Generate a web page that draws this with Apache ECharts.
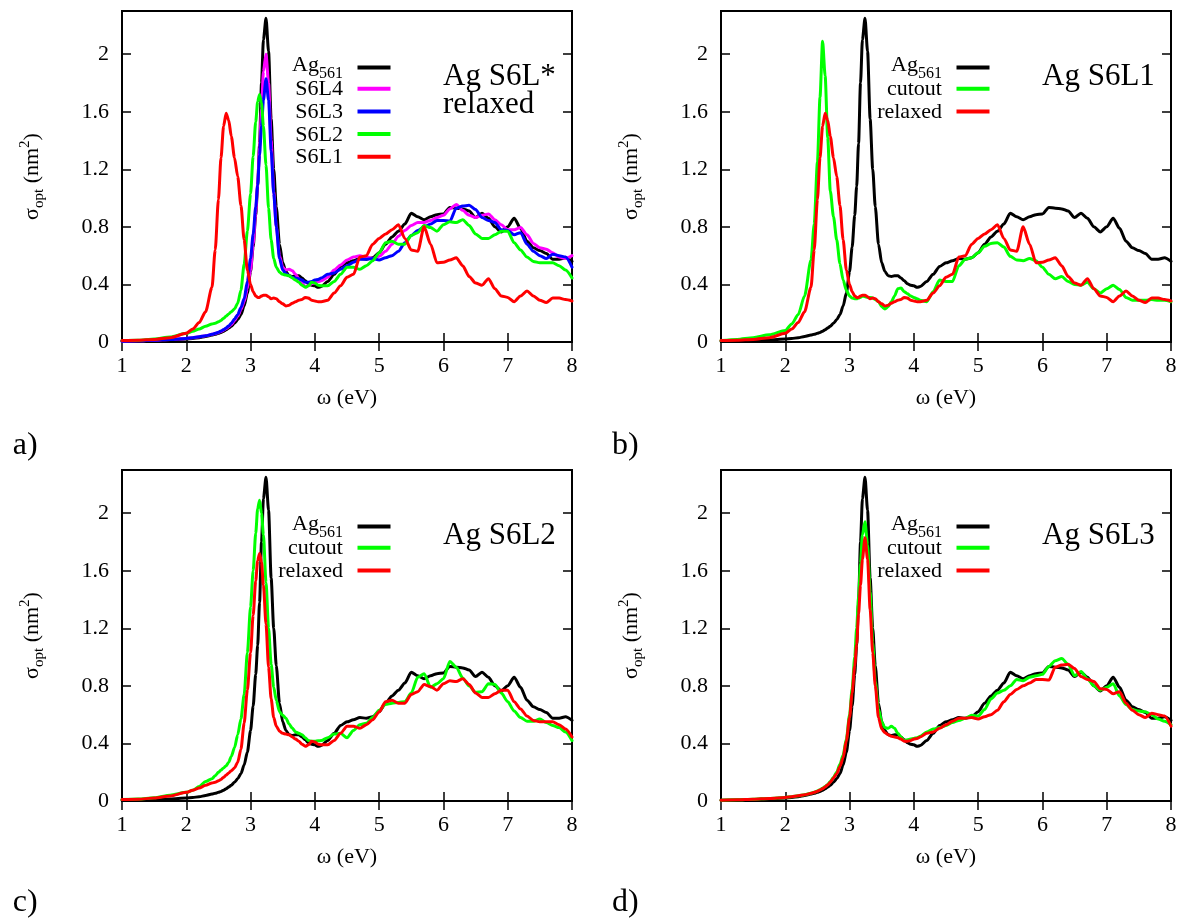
<!DOCTYPE html>
<html><head><meta charset="utf-8">
<script src="https://cdn.jsdelivr.net/npm/echarts@6/dist/echarts.min.js"></script>
<style>html,body{margin:0;padding:0;background:#fff}#c{width:1180px;height:924px}</style>
</head><body><div id="c"></div><script>
// photon energy grid (eV)
const energy = [1.0,1.25,1.5,1.75,2.0,
  2.1,2.2,2.3,2.4,2.45,2.5,
  2.54,2.58,2.62,2.66,
  2.7,2.75,2.8,2.85,2.9,2.95,3.0,
  3.04,3.08,3.11,3.14,3.17,3.2,
  3.24,3.28,3.32,3.36,3.4,
  3.45,3.5,3.55,3.6,3.65,3.7,3.75,3.8,3.85,3.9,3.95,4.0,4.05,
  4.1,4.2,4.3,4.4,4.5,4.6,4.7,4.8,4.9,5.0,
  5.1,5.2,5.3,5.4,5.5,5.6,5.7,5.8,5.9,6.0,
  6.1,6.2,6.3,6.4,6.5,6.6,6.7,6.8,6.9,7.0,
  7.1,7.2,7.3,7.4,7.5,7.6,7.7,7.8,7.9,8.0];

const ag561 = [0.005,0.007,0.01,0.014,0.02,
  0.024,0.03,0.038,0.048,0.054,0.06,
  0.066,0.075,0.085,0.097,
  0.11,0.13,0.155,0.19,0.25,0.34,0.49,
  0.66,0.88,1.08,1.38,1.8,2.1,
  2.25,2.02,1.55,1.2,0.94,
  0.68,0.55,0.49,0.46,0.455,0.46,0.46,0.445,0.425,0.405,0.395,0.39,0.38,
  0.385,0.42,0.47,0.525,0.55,0.565,0.58,0.575,0.585,0.62,
  0.68,0.73,0.77,0.82,0.895,0.87,0.85,0.87,0.885,0.89,
  0.935,0.93,0.925,0.91,0.865,0.895,0.86,0.8,0.765,0.8,
  0.86,0.79,0.7,0.655,0.635,0.615,0.575,0.575,0.585,0.56];

const s6l1Relaxed = [0.01,0.012,0.018,0.03,0.06,
  0.09,0.135,0.21,0.38,0.64,0.99,
  1.28,1.5,1.59,1.54,
  1.43,1.28,1.15,0.95,0.71,0.5,0.4,
  0.35,0.32,0.31,0.31,0.32,0.325,
  0.325,0.315,0.3,0.305,0.3,
  0.28,0.265,0.25,0.255,0.27,0.28,0.29,0.295,0.31,0.305,0.29,0.285,0.28,
  0.28,0.29,0.34,0.39,0.45,0.47,0.59,0.6,0.68,0.72,
  0.75,0.78,0.815,0.72,0.64,0.63,0.8,0.68,0.55,0.555,
  0.57,0.585,0.53,0.455,0.41,0.395,0.44,0.37,0.32,0.31,
  0.28,0.32,0.355,0.32,0.29,0.275,0.305,0.305,0.295,0.285];

const s6l1Cutout = [0.01,0.018,0.03,0.05,0.08,
  0.125,0.19,0.32,0.57,0.82,1.25,
  1.7,2.09,1.85,1.42,
  1.05,0.87,0.71,0.545,0.43,0.36,0.32,
  0.305,0.3,0.3,0.305,0.31,0.32,
  0.315,0.31,0.31,0.305,0.295,
  0.28,0.245,0.23,0.245,0.28,0.32,0.37,0.375,0.35,0.335,0.32,0.31,0.3,
  0.29,0.28,0.35,0.43,0.42,0.42,0.53,0.575,0.585,0.62,
  0.665,0.685,0.69,0.66,0.595,0.57,0.565,0.58,0.565,0.52,
  0.47,0.44,0.455,0.42,0.4,0.395,0.415,0.37,0.34,0.37,
  0.395,0.365,0.31,0.29,0.29,0.29,0.295,0.29,0.29,0.28];

const s6l2Relaxed = [0.01,0.013,0.02,0.035,0.06,
  0.075,0.09,0.11,0.125,0.13,0.14,
  0.15,0.165,0.18,0.195,
  0.21,0.23,0.27,0.36,0.54,0.77,1.03,
  1.29,1.53,1.67,1.72,1.66,1.5,
  1.23,0.93,0.71,0.58,0.52,
  0.485,0.47,0.465,0.46,0.445,0.43,0.415,0.395,0.38,0.39,0.415,0.41,0.395,
  0.39,0.39,0.42,0.47,0.52,0.52,0.505,0.53,0.565,0.62,
  0.69,0.7,0.68,0.68,0.74,0.76,0.81,0.795,0.77,0.815,
  0.835,0.83,0.85,0.81,0.75,0.72,0.72,0.745,0.77,0.77,
  0.69,0.64,0.59,0.56,0.55,0.55,0.55,0.53,0.5,0.445];

const s6l2Cutout = [0.01,0.014,0.022,0.04,0.06,
  0.075,0.1,0.135,0.155,0.175,0.2,
  0.215,0.23,0.245,0.27,
  0.31,0.37,0.46,0.57,0.74,1.03,1.35,
  1.6,1.86,2.03,2.09,2.0,1.85,
  1.52,1.2,0.95,0.79,0.7,
  0.62,0.595,0.575,0.535,0.505,0.48,0.47,0.46,0.44,0.42,0.415,0.415,0.418,
  0.42,0.44,0.465,0.47,0.44,0.49,0.53,0.54,0.58,0.63,
  0.67,0.68,0.685,0.69,0.75,0.86,0.885,0.79,0.815,0.85,
  0.97,0.93,0.855,0.8,0.755,0.76,0.815,0.81,0.75,0.69,
  0.625,0.58,0.555,0.555,0.57,0.545,0.525,0.51,0.48,0.42];

const s6l3Relaxed = [0.005,0.008,0.012,0.018,0.025,
  0.03,0.036,0.043,0.053,0.06,0.068,
  0.076,0.086,0.098,0.112,
  0.13,0.16,0.19,0.24,0.3,0.42,0.58,
  0.75,0.94,1.09,1.3,1.5,1.68,
  1.83,1.68,1.33,1.03,0.8,
  0.58,0.5,0.475,0.46,0.45,0.445,0.44,0.43,0.415,0.415,0.42,0.43,0.435,
  0.445,0.47,0.48,0.505,0.53,0.555,0.575,0.575,0.58,0.57,
  0.585,0.6,0.63,0.69,0.74,0.775,0.8,0.82,0.845,0.845,
  0.84,0.93,0.945,0.95,0.92,0.865,0.845,0.83,0.78,0.775,
  0.745,0.76,0.68,0.63,0.6,0.58,0.61,0.6,0.59,0.52];

const s6l3Cutout = [0.005,0.008,0.012,0.018,0.025,
  0.03,0.036,0.044,0.054,0.061,0.07,
  0.078,0.088,0.1,0.115,
  0.135,0.165,0.2,0.255,0.32,0.43,0.6,
  0.78,1.0,1.2,1.42,1.65,1.85,
  1.94,1.78,1.45,1.1,0.83,
  0.64,0.55,0.51,0.505,0.52,0.505,0.47,0.445,0.42,0.425,0.43,0.435,0.44,
  0.45,0.48,0.5,0.51,0.525,0.545,0.56,0.575,0.595,0.59,
  0.635,0.71,0.75,0.77,0.8,0.845,0.835,0.86,0.87,0.88,
  0.935,0.975,0.99,0.95,0.87,0.9,0.85,0.8,0.77,0.79,
  0.815,0.73,0.67,0.635,0.625,0.62,0.6,0.57,0.555,0.53];

const s6l4Relaxed = [0.005,0.008,0.012,0.018,0.025,
  0.03,0.036,0.043,0.053,0.059,0.066,
  0.073,0.082,0.093,0.106,
  0.122,0.148,0.18,0.225,0.28,0.37,0.5,
  0.68,0.9,1.1,1.35,1.62,1.88,
  2.0,1.8,1.4,1.05,0.8,
  0.6,0.52,0.5,0.505,0.495,0.47,0.44,0.41,0.385,0.39,0.405,0.41,0.42,
  0.425,0.45,0.5,0.535,0.57,0.59,0.6,0.59,0.58,0.595,
  0.63,0.68,0.735,0.775,0.81,0.83,0.83,0.845,0.865,0.88,
  0.925,0.955,0.915,0.88,0.865,0.88,0.89,0.85,0.815,0.78,
  0.78,0.795,0.745,0.685,0.655,0.645,0.62,0.59,0.58,0.6];

const xRange = [1, 8];
const xStep = 1;
const yRange = [0, 2.3];
const yStep = 0.4;

const FONT = 'Liberation Serif';
const W = 1180;

const panels = [
  {left:122, top:11, title:'Ag S6L*\nrelaxed', tag:'a)',
   lines:[['Ag561', ag561, '#000000'], ['S6L4', s6l4Relaxed, '#ff00ff'], ['S6L3', s6l3Relaxed, '#0000ff'], ['S6L2', s6l2Relaxed, '#00ff00'], ['S6L1', s6l1Relaxed, '#ff0000']]},
  {left:721, top:11, title:'Ag S6L1', tag:'b)',
   lines:[['Ag561', ag561, '#000000'], ['cutout', s6l1Cutout, '#00ff00'], ['relaxed', s6l1Relaxed, '#ff0000']]},
  {left:122, top:470, title:'Ag S6L2', tag:'c)',
   lines:[['Ag561', ag561, '#000000'], ['cutout', s6l2Cutout, '#00ff00'], ['relaxed', s6l2Relaxed, '#ff0000']]},
  {left:721, top:470, title:'Ag S6L3', tag:'d)',
   lines:[['Ag561', ag561, '#000000'], ['cutout', s6l3Cutout, '#00ff00'], ['relaxed', s6l3Relaxed, '#ff0000']]}
];
const GW = 450, GH = 331;
const LH = 22.7;   // legend row pitch

const grids = [], xAxes = [], yAxes = [], series = [], legends = [], titles = [], graphics = [];
const tickStyle = {inside:true, length:9, lineStyle:{color:'#000', width:1.5}};
const labelBase = {fontFamily:FONT, fontSize:22, color:'#000'};
const yFmt = v => (Math.abs(v / yStep - Math.round(v / yStep)) < 1e-6 ? String(+v.toFixed(1)) : '');

panels.forEach((p, i) => {
  grids.push({left:p.left, top:p.top, width:GW, height:GH, show:true, borderColor:'#000', borderWidth:2, backgroundColor:'transparent', containLabel:false, outerBoundsMode:'none'});
  xAxes.push({gridIndex:i, type:'value', position:'bottom', min:xRange[0], max:xRange[1], interval:xStep,
    axisLine:{show:false}, axisTick:tickStyle, splitLine:{show:false},
    axisLabel:Object.assign({margin:13}, labelBase),
    name:'ω (eV)', nameLocation:'middle', nameGap:45.5, nameTextStyle:Object.assign({}, labelBase)});
  xAxes.push({gridIndex:i, type:'value', position:'top', min:xRange[0], max:xRange[1], interval:xStep,
    axisLine:{show:false}, axisTick:tickStyle, splitLine:{show:false}, axisLabel:{show:false}});
  yAxes.push({gridIndex:i, type:'value', position:'left', min:yRange[0], max:yRange[1], interval:yStep,
    axisLine:{show:false}, axisTick:tickStyle, splitLine:{show:false},
    axisLabel:Object.assign({margin:13, showMaxLabel:false, formatter:yFmt}, labelBase),
    name:'{m|σ}{s|opt}{m| (nm}{u|2}{m|)}', nameLocation:'middle', nameRotate:90, nameGap:75,
    nameTextStyle:Object.assign({rich:{
      m:{fontFamily:FONT, fontSize:22, color:'#000', padding:[4,0,4,0]},
      s:{fontFamily:FONT, fontSize:15, color:'#000', padding:[14.9,0,0.1,0]},
      u:{fontFamily:FONT, fontSize:15, color:'#000', padding:[0.9,0,14.1,0]}
    }}, labelBase)});
  yAxes.push({gridIndex:i, type:'value', position:'right', min:yRange[0], max:yRange[1], interval:yStep,
    axisLine:{show:false}, axisTick:tickStyle, splitLine:{show:false}, axisLabel:{show:false}});

  p.lines.forEach(([name, ys, color], k) => {
    series.push({type:'line', name:name, xAxisIndex:2*i, yAxisIndex:2*i,
      data: energy.map((e, j) => [e, ys[j]]),
      showSymbol:false, symbol:'none', color:color, silent:true,
      smooth:0.25, smoothMonotone:'x',
      lineStyle:{color:color, width:3, join:'round', cap:'round'},
      emphasis:{disabled:true}, z:2});

    // one legend row per series (gnuplot-style key: right-aligned text, sample line on the right)
    legends.push({orient:'vertical', align:'right', right: W - (p.left + 268.5),
      top: p.top + 55 + k * LH - LH / 2,
      padding:0, itemGap:0, itemWidth:33, itemHeight:4, icon:'rect', selectedMode:false,
      itemStyle:{borderWidth:0},
      data:[name],
      formatter: n => n === 'Ag561' ? '{g|Ag}{s|561}' : '{m|' + n + '}',
      textStyle:{fontFamily:FONT, fontSize:22, color:'#000', lineHeight:LH, padding:[0,9.6,0,0], rich:{
        g:{fontFamily:FONT, fontSize:22, color:'#000', lineHeight:LH, height:19, verticalAlign:'top'},
        s:{fontFamily:FONT, fontSize:16, color:'#000', lineHeight:LH, height:10, verticalAlign:'bottom'},
        m:{fontFamily:FONT, fontSize:22, color:'#000', lineHeight:LH, height:20.9, verticalAlign:'bottom'}
      }}});
  });

  titles.push({text:p.title, left:p.left + 321, top:p.top + 52, padding:0,
    textStyle:{fontFamily:FONT, fontSize:31, fontWeight:'normal', color:'#000', lineHeight:28}});

  graphics.push({type:'text', left: (i % 2 === 0) ? 12.7 : 612, top: (i < 2) ? 429.8 : 886.4,
    style:{text:p.tag, font:'32px "Liberation Serif"', fill:'#000'}});
});

const chart = echarts.init(document.getElementById('c'), null, {renderer:'canvas'});
chart.setOption({
  animation:false,
  backgroundColor:'#ffffff',
  title:titles, grid:grids, xAxis:xAxes, yAxis:yAxes, legend:legends, series:series, graphic:graphics
});
</script></body></html>
